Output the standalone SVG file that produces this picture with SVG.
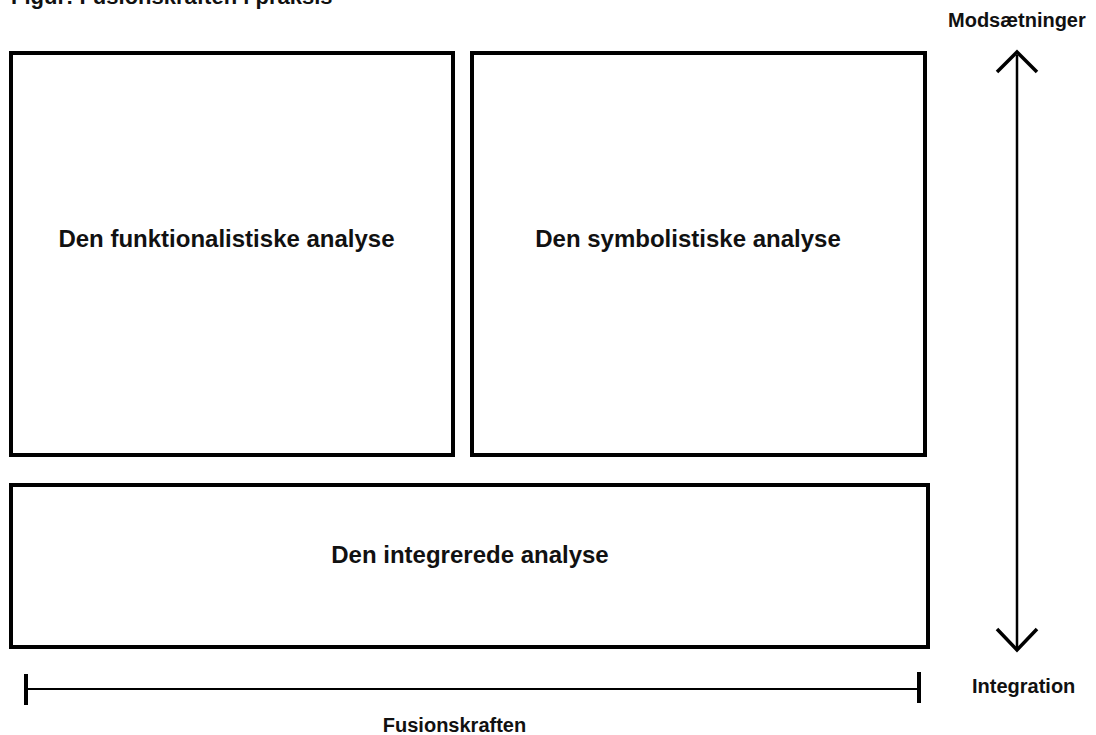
<svg xmlns="http://www.w3.org/2000/svg" width="1096" height="735" viewBox="0 0 1096 735">
  <style>
    .box { fill: #ffffff; stroke: #000000; stroke-width: 4; }
    .big { font-family: "Liberation Sans", Arial, sans-serif; font-weight: bold; font-size: 24px; fill: #111111; text-anchor: middle; }
    .small { font-family: "Liberation Sans", Arial, sans-serif; font-weight: bold; font-size: 20px; fill: #111111; }
    .shaft { stroke: #000000; stroke-width: 2.5; fill: none; }
    .head { stroke: #000000; stroke-width: 3.5; fill: none; stroke-linecap: butt; stroke-linejoin: miter; }
    .tick { stroke: #000000; stroke-width: 4; }
  </style>
  <rect width="1096" height="735" fill="#ffffff"/>
  <text class="small" x="11" y="4" style="font-size:22px">Figur: Fusionskraften i praksis</text>

  <g id="node-funktionalistiske">
    <rect class="box" x="11" y="53" width="442" height="402"/>
    <text class="big" x="226.5" y="247">Den funktionalistiske analyse</text>
  </g>
  <g id="node-symbolistiske">
    <rect class="box" x="472" y="53" width="453" height="402"/>
    <text class="big" x="688" y="247">Den symbolistiske analyse</text>
  </g>
  <g id="node-integrerede">
    <rect class="box" x="11" y="485" width="917" height="162"/>
    <text class="big" x="470" y="563">Den integrerede analyse</text>
  </g>

  <g id="connectors">
    <line class="shaft" x1="1017" y1="55" x2="1017" y2="648"/>
    <polyline class="head" points="997,72 1017,52 1037,72"/>
    <polyline class="head" points="997,629 1017,650 1037,629"/>
    <line class="shaft" x1="26" y1="689" x2="919" y2="689" style="stroke-width:2"/>
    <line class="tick" x1="26" y1="674" x2="26" y2="705"/>
    <line class="tick" x1="919" y1="672" x2="919" y2="703"/>
  </g>

  <g id="labels">
    <text class="small" x="948" y="27">Modsætninger</text>
    <text class="small" x="972" y="693">Integration</text>
    <text class="small" x="454.5" y="732" text-anchor="middle">Fusionskraften</text>
  </g>
</svg>
